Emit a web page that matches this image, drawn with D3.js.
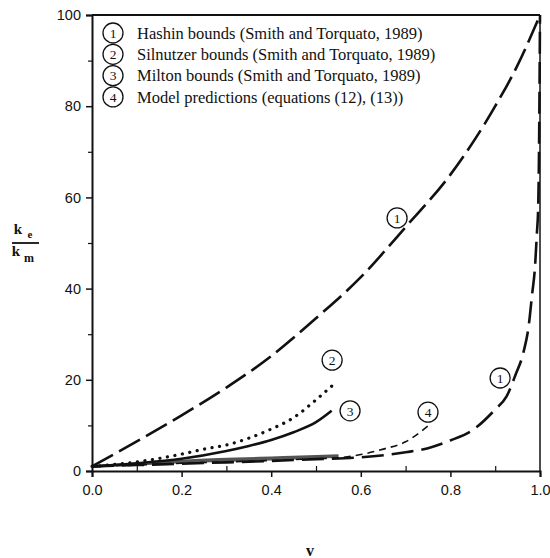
<!DOCTYPE html>
<html>
<head>
<meta charset="utf-8">
<script src="https://cdn.jsdelivr.net/npm/d3@7"></script>
<style>
  body { margin: 0; background: #fff; }
  svg { display: block; }
  .tick-label { font-family: "Liberation Sans", Arial, sans-serif; font-size: 14.5px; fill: #111; }
  .legend-text { font-family: "Liberation Serif", "Times New Roman", serif; font-size: 16.5px; fill: #111; }
  .num { font-family: "Liberation Serif", "Times New Roman", serif; font-size: 13.5px; fill: #111; }
  .axis-title { font-family: "Liberation Serif", "Times New Roman", serif; font-weight: bold; fill: #111; }
</style>
</head>
<body>
<svg id="chart" width="550" height="558"></svg>
<script>
// volume fraction v vs ke/km

// 1: Hashin upper bound
hashinUpperV = [0, 0.1, 0.2, 0.3, 0.4, 0.5, 0.6, 0.7, 0.8, 0.9, 0.95, 1.0];
hashinUpperK = [1, 6.5, 12.2, 18.3, 25.2, 33.5, 42.5, 53.5, 65, 80, 89, 100];

// 1: Hashin lower bound
hashinLowerV = [0, 0.1, 0.2, 0.3, 0.4, 0.5, 0.6, 0.7, 0.75, 0.8, 0.85, 0.9, 0.925, 0.945, 0.963, 0.975, 0.982, 0.989, 0.993, 0.996, 0.998, 1.0];
hashinLowerK = [1, 1.3, 1.6, 1.9, 2.2, 2.6, 3.0, 4.1, 5.0, 6.7, 9.0, 13.5, 16.3, 21, 26, 32, 38.4, 45, 52, 58, 72, 100];

// 2: Silnutzer bounds (dotted upper, lower close to Hashin)
silnutzerV = [0, 0.1, 0.2, 0.25, 0.3, 0.35, 0.4, 0.45, 0.5, 0.545];
silnutzerK = [1, 2, 3.7, 4.8, 5.7, 7.2, 9.2, 11.7, 15.6, 19.5];
silnutzerLowV = [0, 0.1, 0.2, 0.3, 0.4, 0.5, 0.55];
silnutzerLowK = [1, 1.6, 2.2, 2.6, 2.9, 3.2, 3.4];

// 3: Milton bounds (solid)
miltonV = [0, 0.1, 0.2, 0.3, 0.35, 0.4, 0.45, 0.5, 0.535];
miltonK = [1, 1.7, 2.7, 4.4, 5.5, 6.8, 8.5, 10.7, 13.2];
miltonLowV = [0, 0.1, 0.2, 0.3, 0.4, 0.5, 0.55];
miltonLowK = [1, 1.5, 2.0, 2.3, 2.6, 3.0, 3.2];

// 4: model predictions (short dash)
modelV = [0, 0.1, 0.2, 0.3, 0.4, 0.5, 0.55, 0.6, 0.65, 0.7, 0.75];
modelK = [1, 1.3, 1.7, 2.0, 2.3, 2.7, 2.9, 3.6, 4.8, 6.4, 9.9];

xTicks = [0, 0.2, 0.4, 0.6, 0.8, 1.0];
xMinor = [0.1, 0.3, 0.5, 0.7, 0.9];
yTicks = [0, 20, 40, 60, 80, 100];
yMinor = [10, 30, 50, 70, 90];

legendNums = ["1", "2", "3", "4"];
legendText = [
  "Hashin bounds (Smith and Torquato, 1989)",
  "Silnutzer bounds (Smith and Torquato, 1989)",
  "Milton bounds (Smith and Torquato, 1989)",
  "Model predictions (equations (12), (13))"
];

// circled curve numbers, in data coordinates
markNums = ["1", "2", "3", "4", "1"];
markV = [0.681, 0.536, 0.576, 0.75, 0.911];
markK = [55.5, 24.3, 13.2, 12.9, 20.4];

var svg = d3.select("#chart");

var x = d3.scaleLinear().domain([0, 1]).range([92, 540]);
var y = d3.scaleLinear().domain([0, 100]).range([471, 15]);

function zip(a, b) {
  return a.map(function(d, i) { return [d, b[i]]; });
}

var line = d3.line()
  .x(function(d) { return x(d[0]); })
  .y(function(d) { return y(d[1]); })
  .curve(d3.curveMonotoneX);

// frame: top and right
svg.append("line")
  .attr("x1", x(0)).attr("x2", x(1)).attr("y1", y(100)).attr("y2", y(100))
  .attr("stroke", "#111").attr("stroke-width", 2);
svg.append("line")
  .attr("x1", x(1)).attr("x2", x(1)).attr("y1", y(100)).attr("y2", y(0))
  .attr("stroke", "#111").attr("stroke-width", 1.5);

// x axis
var xAxis = svg.append("g")
  .attr("transform", "translate(0," + y(0) + ")")
  .call(d3.axisBottom(x).tickValues(xTicks).tickSize(6).tickPadding(8)
    .tickFormat(d3.format(".1f")));
xAxis.select(".domain").attr("stroke", "#111").attr("stroke-width", 2);
xAxis.selectAll(".tick line").attr("stroke", "#111").attr("stroke-width", 1.5);
xAxis.selectAll(".tick text").attr("class", "tick-label").attr("font-size", null).attr("font-family", null);

svg.append("g")
  .attr("transform", "translate(0," + y(0) + ")")
  .call(d3.axisTop(x).tickValues(xMinor).tickSize(5).tickFormat(""))
  .call(function(g) {
    g.select(".domain").remove();
    g.selectAll(".tick line").attr("stroke", "#111").attr("stroke-width", 1.2);
  });

// y axis
var yAxis = svg.append("g")
  .attr("transform", "translate(" + x(0) + ",0)")
  .call(d3.axisLeft(y).tickValues(yTicks).tickSize(6).tickPadding(5));
yAxis.select(".domain").attr("stroke", "#111").attr("stroke-width", 2);
yAxis.selectAll(".tick line").attr("stroke", "#111").attr("stroke-width", 1.5);
yAxis.selectAll(".tick text").attr("class", "tick-label").attr("font-size", null).attr("font-family", null);

svg.append("g")
  .attr("transform", "translate(" + x(0) + ",0)")
  .call(d3.axisLeft(y).tickValues(yMinor).tickSize(4).tickFormat(""))
  .call(function(g) {
    g.select(".domain").remove();
    g.selectAll(".tick line").attr("stroke", "#111").attr("stroke-width", 1.2);
  });

// lower bounds, nearly on top of each other (greyish band)
[zip(silnutzerLowV, silnutzerLowK), zip(miltonLowV, miltonLowK)].forEach(function(pts) {
  svg.append("path")
    .datum(pts)
    .attr("d", line)
    .attr("fill", "none").attr("stroke", "#555").attr("stroke-width", 2.6);
});

// curves
svg.append("path")
  .datum(zip(hashinUpperV, hashinUpperK))
  .attr("d", line)
  .attr("fill", "none").attr("stroke", "#111").attr("stroke-width", 2.6)
  .attr("stroke-dasharray", "24,7");

svg.append("path")
  .datum(zip(hashinLowerV, hashinLowerK))
  .attr("d", line)
  .attr("fill", "none").attr("stroke", "#111").attr("stroke-width", 2.6)
  .attr("stroke-dasharray", "22,8");

svg.append("path")
  .datum(zip(silnutzerV, silnutzerK))
  .attr("d", line)
  .attr("fill", "none").attr("stroke", "#111").attr("stroke-width", 3.2)
  .attr("stroke-linecap", "round")
  .attr("stroke-dasharray", "0.1,7.5");

svg.append("path")
  .datum(zip(miltonV, miltonK))
  .attr("d", line)
  .attr("fill", "none").attr("stroke", "#111").attr("stroke-width", 2.6);

svg.append("path")
  .datum(zip(modelV, modelK))
  .attr("d", line)
  .attr("fill", "none").attr("stroke", "#111").attr("stroke-width", 1.6)
  .attr("stroke-dasharray", "7,5");

// circled numbers on the curves
var marks = svg.selectAll(".mark")
  .data(markNums)
  .enter()
  .append("g")
  .attr("class", "mark")
  .attr("transform", function(d, i) { return "translate(" + x(markV[i]) + "," + y(markK[i]) + ")"; });
marks.append("circle")
  .attr("r", 10).attr("fill", "#fff").attr("stroke", "#111").attr("stroke-width", 1.3);
marks.append("text")
  .attr("class", "num")
  .attr("text-anchor", "middle").attr("dy", "0.35em")
  .text(function(d) { return d; });

// legend
var legend = svg.selectAll(".legend")
  .data(legendNums)
  .enter()
  .append("g")
  .attr("class", "legend")
  .attr("transform", function(d, i) { return "translate(113," + (33 + i * 21.3) + ")"; });
legend.append("circle")
  .attr("r", 10).attr("fill", "#fff").attr("stroke", "#111").attr("stroke-width", 1.3);
legend.append("text")
  .attr("class", "num")
  .attr("text-anchor", "middle").attr("dy", "0.35em")
  .text(function(d) { return d; });
legend.append("text")
  .attr("class", "legend-text")
  .attr("x", 24).attr("dy", "0.35em")
  .text(function(d, i) { return legendText[i]; });

// axis titles
var yt = svg.append("g").attr("class", "axis-title").attr("transform", "translate(26,0)");
yt.append("text").attr("x", -8).attr("y", 234).attr("font-size", 15).attr("text-anchor", "middle").text("k");
yt.append("text").attr("x", 4).attr("y", 238).attr("font-size", 11).attr("text-anchor", "middle").text("e");
yt.append("line").attr("x1", -14).attr("x2", 13).attr("y1", 243).attr("y2", 243)
  .attr("stroke", "#111").attr("stroke-width", 1.8);
yt.append("text").attr("x", -10).attr("y", 256).attr("font-size", 15).attr("text-anchor", "middle").text("k");
yt.append("text").attr("x", 3).attr("y", 262).attr("font-size", 12).attr("text-anchor", "middle").text("m");

svg.append("text")
  .attr("class", "axis-title")
  .attr("x", 310).attr("y", 556)
  .attr("font-size", 16)
  .attr("text-anchor", "middle")
  .text("v");
</script>
</body>
</html>
